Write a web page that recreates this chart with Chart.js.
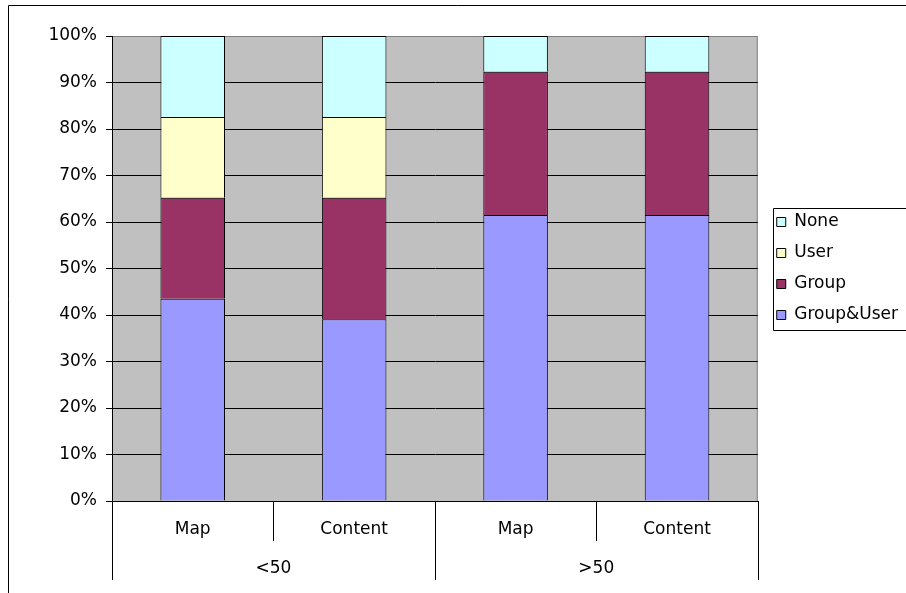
<!DOCTYPE html>
<html lang="en">
<head>
<meta charset="UTF-8" />
<title>Map / Content share</title>
<script src="https://cdn.jsdelivr.net/npm/chart.js"></script>
<style>
  body { margin: 0; background: #fff; }
  #wrap { width: 906px; height: 593px; }
</style>
</head>
<body>
<div id="wrap"><canvas id="chart" width="906" height="593"></canvas></div>
<script>
  // values in percent
  const categories = ['Map', 'Content', 'Map', 'Content'];
  const groups = ['<50', '>50'];
  const groupUser = [43.5, 39.1, 61.5, 61.5];
  const group = [21.7, 26.1, 30.8, 30.8];
  const user = [17.4, 17.4, 0, 0];
  const none = [17.4, 17.4, 7.7, 7.7];
  const yTicks = [0, 10, 20, 30, 40, 50, 60, 70, 80, 90, 100];

  Chart.defaults.font.family = 'DejaVu Sans';
  Chart.defaults.font.size = 17;
  Chart.defaults.color = '#000';

  // grey plot background and the frame round the whole chart
  const frame = {
    id: 'frame',
    beforeDraw(chart) {
      const { ctx, chartArea: a } = chart;
      ctx.save();
      ctx.fillStyle = '#c0c0c0';
      ctx.fillRect(a.left, a.top, a.right - a.left, a.bottom - a.top);
      ctx.strokeStyle = '#808080';
      ctx.lineWidth = 1;
      ctx.beginPath();
      ctx.moveTo(a.left, a.top + 0.5);
      ctx.lineTo(a.right - 0.5, a.top + 0.5);
      ctx.lineTo(a.right - 0.5, a.bottom);
      ctx.stroke();
      ctx.strokeStyle = '#000';
      ctx.beginPath();
      ctx.moveTo(8.5, 593);
      ctx.lineTo(8.5, 5.5);
      ctx.lineTo(906, 5.5);
      ctx.stroke();
      ctx.restore();
    },
    afterLayout(chart) {
      // nudge the legend a little away from the plot
      chart.legend.left += 5;
      chart.legend.right += 5;
    },
    afterDraw(chart) {
      const { ctx, scales } = chart;
      const x = scales.x, x2 = scales.x2;
      const step = (x.right - x.left) / categories.length;
      ctx.save();
      ctx.strokeStyle = '#000';
      ctx.lineWidth = 1;
      ctx.beginPath();
      for (let i = 0; i <= categories.length; i++) {
        const px = Math.round(x.left + i * step) + 0.5;
        const bottom = i % 2 === 0 ? x2.bottom : x.bottom;
        ctx.moveTo(px, x.top);
        ctx.lineTo(px, bottom);
      }
      ctx.stroke();
      // box round the legend
      const lg = chart.legend;
      const boxes = lg.legendHitBoxes;
      const top = boxes[0].top - 6;
      const last = boxes[boxes.length - 1];
      const bottom = last.top + last.height + 6;
      ctx.beginPath();
      ctx.moveTo(906, Math.round(top) + 0.5);
      ctx.lineTo(Math.round(lg.left) + 10.5, Math.round(top) + 0.5);
      ctx.lineTo(Math.round(lg.left) + 10.5, Math.round(bottom) + 0.5);
      ctx.lineTo(906, Math.round(bottom) + 0.5);
      ctx.stroke();
      ctx.restore();
    }
  };

  const bar = (label, data, color) => ({
    label, data,
    backgroundColor: color,
    borderColor: '#000',
    borderWidth: 1,
    borderSkipped: 'bottom'
  });

  new Chart(document.getElementById('chart'), {
    type: 'bar',
    data: {
      labels: categories,
      datasets: [
        bar('Group&User', groupUser, '#9999ff'),
        bar('Group', group, '#993366'),
        bar('User', user, '#ffffcc'),
        bar('None', none, '#ccffff')
      ]
    },
    options: {
      responsive: false,
      animation: false,
      categoryPercentage: 1,
      barPercentage: 0.4,
      layout: { padding: { top: 36, bottom: 13, right: 3, left: 0 } },
      plugins: {
        tooltip: { enabled: false },
        legend: {
          position: 'right',
          fullSize: false,
          reverse: true,
          labels: { boxWidth: 9, boxHeight: 9, padding: 14, color: '#000' }
        }
      },
      scales: {
        x: {
          stacked: true,
          weight: 0,
          grid: { display: false, drawTicks: false },
          border: { color: '#000' },
          ticks: { padding: 18, maxRotation: 0 },
          afterFit(s) { s.height = 40; }
        },
        x2: {
          type: 'category',
          labels: groups,
          position: 'bottom',
          weight: 1,
          offset: true,
          grid: { display: false, drawTicks: false },
          border: { display: false },
          ticks: { padding: 17, maxRotation: 0 },
          afterFit(s) { s.height = 39; }
        },
        y: {
          stacked: true,
          min: 0,
          max: 100,
          afterBuildTicks(s) { s.ticks = yTicks.map(v => ({ value: v })); },
          ticks: { padding: 9, callback: v => v + '%' },
          grid: {
            color: c => c.tick && c.tick.value === 100 ? '#808080' : '#000',
            tickColor: '#000',
            tickLength: 6
          },
          border: { color: '#000' },
          afterFit(s) { s.width = 112; }
        }
      }
    },
    plugins: [frame]
  });
</script>
</body>
</html>
